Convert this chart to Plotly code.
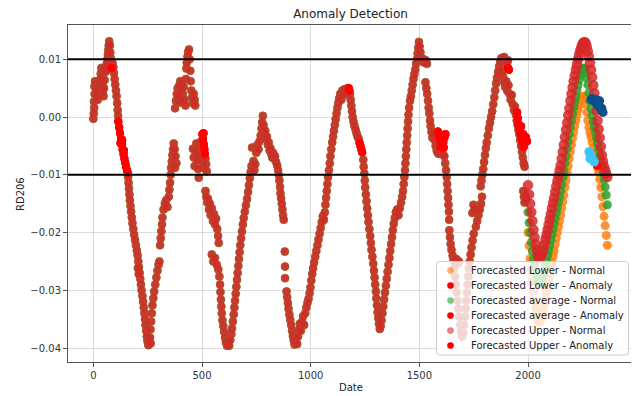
import plotly.graph_objects as go

# ---------------- data ----------------
x_ticks = [0, 500, 1000, 1500, 2000]
x_tick_labels = ["0", "500", "1000", "1500", "2000"]
y_ticks = [-0.04, -0.03, -0.02, -0.01, 0.00, 0.01]
y_tick_labels = ["\u22120.04", "\u22120.03", "\u22120.02", "\u22120.01", "0.00", "0.01"]
threshold_levels = [0.01, -0.01]

legend_labels = ["Forecasted Lower - Normal", "Forecasted Lower - Anomaly",
                 "Forecasted average - Normal", "Forecasted average - Anomaly",
                 "Forecasted Upper - Normal", "Forecasted Upper - Anomaly"]

# history (date, value) - all three forecast series coincide here
seg_a = [(0,-0.0003),(2,0.0006),(4,0.0016),(3,0.0027),(6,0.0040),(5,0.0053),(8,0.0062),(12,0.0058),(15,0.0048),
         (18,0.0038),(21,0.0030),(23,0.0045),(26,0.0058),(29,0.0064),(31,0.0052),(34,0.0075),(37,0.0085),(40,0.0070),
         (42,0.0058),(44,0.0045),(47,0.0036),(49,0.0050),(52,0.0064),(54,0.0078),(57,0.0086),(60,0.0080),(62,0.0092),
         (65,0.0100),(67,0.0108),(69,0.0116),(71,0.0124),(73,0.0131),(76,0.0124),(78,0.0112),(80,0.0102),(88,0.0094),
         (92,0.0086),(95,0.0076),(98,0.0066),(101,0.0056),(104,0.0046),(107,0.0036),(110,0.0024),(112,0.0012),(114,0.0002)]
seg_b = [(160,-0.0104),(162,-0.0114),(164,-0.0124),(166,-0.0134),(168,-0.0144),(171,-0.0154),(174,-0.0164),(177,-0.0174),
         (180,-0.0184),(184,-0.0194),(188,-0.0204),(192,-0.0213),(196,-0.0222),(200,-0.0231),(204,-0.0240),(207,-0.0250),
         (210,-0.0260),(213,-0.0270),(216,-0.0280),(219,-0.0290),(222,-0.0300),(226,-0.0310),(229,-0.0320),(232,-0.0330),
         (235,-0.0340),(238,-0.0350),(240,-0.0360),(243,-0.0370),(246,-0.0380),(249,-0.0388),(253,-0.0395),(257,-0.0390),
         (261,-0.0382),(264,-0.0392),(205,-0.0262),(209,-0.0272)]
seg_c = [(263,-0.0368),(266,-0.0354),(269,-0.0340),(272,-0.0326),(276,-0.0314),(280,-0.0302),(285,-0.0290),(290,-0.0278),
         (295,-0.0266),(300,-0.0256),(304,-0.0250),(307,-0.0222),(310,-0.0210),(313,-0.0198),(316,-0.0186),(318,-0.0174),
         (323,-0.0160),(329,-0.0150),(335,-0.0144),(341,-0.0156),(347,-0.0138),(350,-0.0126),(353,-0.0114),(356,-0.0100),
         (358,-0.0088),(361,-0.0077),(364,-0.0066),(367,-0.0056),(370,-0.0046),(374,-0.0056),(378,-0.0068),(382,-0.0080),
         (376,-0.0088)]
seg_d = [(376,0.0015),(380,0.0028),(384,0.0040),(388,0.0050),(392,0.0035),(396,0.0055),(400,0.0062),(404,0.0048),
         (408,0.0058),(412,0.0040),(416,0.0052),(420,0.0030),(424,0.0020),(426,0.0066),(428,0.0084),(430,0.0094),
         (433,0.0104),(436,0.0112),(440,0.0117),(443,0.0100),(446,0.0080),(448,0.0062),(451,0.0046),(454,0.0034),
         (458,0.0024),(462,0.0040),(466,0.0030),(469,0.0020),(398,0.0025),(410,0.0030)]
seg_e = [(458,-0.0055),(462,-0.0070),(466,-0.0085),(470,-0.0060),(474,-0.0046),(478,-0.0075),(482,-0.0090),(485,-0.0105),
         (488,-0.0066),(492,-0.0052),(496,-0.0042),(499,-0.0076),(503,-0.0088),(516,-0.0072),(519,-0.0082),(522,-0.0094),
         (516,-0.0128),(520,-0.0138),(524,-0.0148),(528,-0.0142),(532,-0.0160),(536,-0.0150),(540,-0.0170),(545,-0.0158),
         (550,-0.0180),(555,-0.0168),(560,-0.0186),(565,-0.0176),(570,-0.0194),(574,-0.0206),(577,-0.0218),(545,-0.0238),
         (552,-0.0250),(560,-0.0244),(568,-0.0256),(575,-0.0264),(580,-0.0276),(583,-0.0290),(585,-0.0303),(587,-0.0316),
         (589,-0.0328),(591,-0.0340),(594,-0.0352),(598,-0.0362),(602,-0.0372),(606,-0.0382),(610,-0.0390),(615,-0.0396),
         (620,-0.0389),(625,-0.0396),(630,-0.0386),(635,-0.0376)]
seg_f = [(638,-0.0366),(642,-0.0354),(646,-0.0342),(649,-0.0330),(652,-0.0318),(655,-0.0306),(658,-0.0294),(661,-0.0282),
         (664,-0.0270),(667,-0.0258),(670,-0.0246),(673,-0.0234),(676,-0.0222),(680,-0.0210),(684,-0.0198),(688,-0.0186),
         (692,-0.0175),(697,-0.0164),(702,-0.0153),(707,-0.0142),(712,-0.0130),(716,-0.0118),(720,-0.0106),(724,-0.0095),
         (728,-0.0085),(730,-0.0053),(737,-0.0076),(741,-0.0092),(745,-0.0082),(750,-0.0062),(755,-0.0048),(760,-0.0056),
         (765,-0.0042),(770,-0.0032),(774,-0.0020),(777,-0.0009),(780,0.0002),(783,-0.0014),(787,-0.0028),(791,-0.0024),
         (795,-0.0038),(799,-0.0034),(803,-0.0048),(807,-0.0044),(811,-0.0058),(815,-0.0054),(819,-0.0064),(823,-0.0070),
         (827,-0.0062),(831,-0.0072),(836,-0.0068),(841,-0.0078),(846,-0.0084),(850,-0.0092),(853,-0.0100),(856,-0.0110),
         (859,-0.0121),(861,-0.0132),(864,-0.0141),(867,-0.0150),(870,-0.0160),(873,-0.0170),(876,-0.0178),(881,-0.0233),
         (882,-0.0259),(882,-0.0279),(889,-0.0302),(892,-0.0312),(895,-0.0322),(898,-0.0332),(902,-0.0342),(906,-0.0351),
         (910,-0.0360),(914,-0.0370),(918,-0.0379),(922,-0.0387),(926,-0.0394),(930,-0.0389),(934,-0.0384),(938,-0.0393)]
seg_g = [(942,-0.0380),(946,-0.0368),(950,-0.0358),(955,-0.0370),(960,-0.0355),(965,-0.0345),(970,-0.0360),(975,-0.0340),
         (980,-0.0330),(985,-0.0322),(990,-0.0315),(995,-0.0305),(999,-0.0295),(1003,-0.0283),(1007,-0.0272),(1011,-0.0262),
         (1016,-0.0252),(1021,-0.0242),(1026,-0.0232),(1031,-0.0222),(1036,-0.0212),(1041,-0.0202),(1046,-0.0192),
         (1051,-0.0182),(1056,-0.0172),(1061,-0.0178),(1065,-0.0165),(1068,-0.0152),(1071,-0.0140),(1074,-0.0128),
         (1077,-0.0116),(1080,-0.0104),(1084,-0.0092),(1088,-0.0080),(1091,-0.0068),(1095,-0.0056),(1099,-0.0044),
         (1103,-0.0034),(1107,-0.0024),(1111,-0.0014),(1115,-0.0004),(1119,0.0006),(1123,0.0016),(1127,0.0024),
         (1131,0.0032),(1136,0.0040),(1141,0.0030),(1146,0.0046),(1151,0.0038),(1156,0.0048),(1161,0.0040),
         (1166,0.0046),(1170,0.0050)]
seg_h = [(1181,0.0040),(1184,0.0030),(1187,0.0020),(1190,0.0010),(1193,0.0000),(1197,-0.0008),(1201,-0.0015),
         (1206,-0.0021),(1211,-0.0028),(1216,-0.0034),(1221,-0.0038),(1242,-0.0074),(1244,-0.0086),(1247,-0.0098),
         (1249,-0.0110),(1251,-0.0122),(1254,-0.0134),(1257,-0.0146),(1260,-0.0158),(1263,-0.0170),(1266,-0.0182),
         (1270,-0.0194),(1274,-0.0206),(1277,-0.0218),(1280,-0.0230),(1284,-0.0242),(1288,-0.0254),(1291,-0.0266),
         (1294,-0.0278),(1297,-0.0290),(1300,-0.0302),(1302,-0.0314),(1305,-0.0326),(1308,-0.0338),(1311,-0.0348),
         (1314,-0.0358),(1318,-0.0367),(1322,-0.0362)]
seg_i = [(1326,-0.0352),(1330,-0.0340),(1334,-0.0328),(1338,-0.0316),(1342,-0.0304),(1346,-0.0292),(1350,-0.0280),
         (1354,-0.0268),(1358,-0.0256),(1362,-0.0244),(1366,-0.0232),(1370,-0.0220),(1374,-0.0208),(1378,-0.0196),
         (1382,-0.0185),(1387,-0.0175),(1392,-0.0165),(1398,-0.0160),(1404,-0.0170),(1410,-0.0158),(1416,-0.0148),
         (1421,-0.0138),(1425,-0.0128),(1428,-0.0116),(1431,-0.0104),(1434,-0.0092),(1436,-0.0080),(1438,-0.0068),
         (1440,-0.0056),(1442,-0.0044),(1444,-0.0032),(1446,-0.0020),(1448,-0.0008),(1450,0.0004),(1453,0.0016),
         (1457,0.0028),(1461,0.0036),(1465,0.0046),(1469,0.0056),(1473,0.0066),(1477,0.0074),(1481,0.0082),
         (1485,0.0092),(1489,0.0100),(1492,0.0110),(1495,0.0120),(1498,0.0130),(1501,0.0122)]
seg_j = [(1505,0.0112),(1510,0.0102),(1515,0.0096),(1520,0.0100),(1525,0.0094),(1530,0.0098),(1535,0.0092),(1528,0.0060),
         (1532,0.0050),(1536,0.0040),(1540,0.0028),(1543,0.0016),(1546,0.0006),(1549,-0.0006),(1552,-0.0016),
         (1556,-0.0026),(1560,-0.0036),(1565,-0.0028),(1570,-0.0040),(1575,-0.0050),(1580,-0.0058),(1585,-0.0062),
         (1590,-0.0064),(1600,-0.0060),(1608,-0.0064),(1615,-0.0068),(1619,-0.0080),(1623,-0.0092),(1626,-0.0104),
         (1628,-0.0116),(1630,-0.0128),(1632,-0.0140),(1634,-0.0152),(1636,-0.0164),(1637,-0.0178),(1638,-0.0196),
         (1641,-0.0208),(1644,-0.0220),(1648,-0.0230),(1653,-0.0240),(1658,-0.0248),(1664,-0.0252),(1670,-0.0246),
         (1676,-0.0254),(1682,-0.0250),(1660,-0.0262),(1664,-0.0276),(1668,-0.0290),(1672,-0.0304),(1676,-0.0318),
         (1680,-0.0332),(1684,-0.0346),(1688,-0.0360),(1692,-0.0372),(1697,-0.0380),(1702,-0.0374),(1706,-0.0360),
         (1710,-0.0346),(1713,-0.0332),(1716,-0.0318),(1719,-0.0304),(1722,-0.0290),(1725,-0.0276),(1728,-0.0262),
         (1732,-0.0250),(1736,-0.0238),(1740,-0.0226),(1745,-0.0214),(1750,-0.0202),(1744,-0.0166),(1749,-0.0152),
         (1754,-0.0160),(1760,-0.0190),(1766,-0.0180),(1772,-0.0170),(1778,-0.0160),(1784,-0.0150),(1788,-0.0138),
         (1782,-0.0120),(1786,-0.0110),(1790,-0.0100),(1794,-0.0090),(1798,-0.0078),(1802,-0.0066),(1806,-0.0054),
         (1810,-0.0044),(1815,-0.0032),(1820,-0.0020),(1825,-0.0010),(1830,0.0000),(1835,0.0010),(1840,0.0022),
         (1845,0.0034),(1849,0.0046),(1853,0.0058),(1857,0.0068),(1862,0.0078),(1867,0.0088),(1872,0.0096),
         (1878,0.0102),(1884,0.0100),(1890,0.0104),(1896,0.0098),(1902,0.0092),(1908,0.0098)]
seg_k = [(1880,0.0080),(1885,0.0070),(1890,0.0060),(1895,0.0052),(1900,0.0062),(1905,0.0045),(1910,0.0055),(1915,0.0040),
         (1920,0.0030),(1925,0.0038),(1930,0.0022),(1935,0.0012),(1940,0.0018),(1944,0.0004),(1948,-0.0006),
         (1952,-0.0014),(1956,-0.0022),(1960,-0.0030),(1964,-0.0040),(1968,-0.0050),(1972,-0.0060),(1976,-0.0070),
         (1980,-0.0080),(1984,-0.0086),(1978,-0.0128),(1981,-0.0138),(1984,-0.0148),(1988,-0.0135),(1992,-0.0142)]

# anomalies (date, value) - shared by the three series
anomalies = [(84,0.0085),(115,-0.0008),(119,-0.0018),(123,-0.0028),(127,-0.0038),(131,-0.0047),(135,-0.0056),
             (139,-0.0064),(143,-0.0072),(147,-0.0079),(151,-0.0086),(155,-0.0092),(159,-0.0097),(125,-0.0045),
             (133,-0.0040),(141,-0.0058),(502,-0.0030),(505,-0.0038),(508,-0.0047),(511,-0.0056),(513,-0.0064),
             (507,-0.0028),(1175,0.0050),(1178,0.0046),(1225,-0.0045),(1229,-0.0050),(1233,-0.0056),(1237,-0.0061),
             (1585,-0.0025),(1590,-0.0032),(1595,-0.0040),(1600,-0.0046),(1605,-0.0050),(1610,-0.0044),(1615,-0.0036),
             (1620,-0.0030),(1598,-0.0052),(1612,-0.0053),(1908,0.0085),(1912,0.0082),(1950,0.0008),(1953,-0.0002),
             (1955,-0.0012),(1960,-0.0020),(1965,-0.0028),(1970,-0.0036),(1975,-0.0044),(1980,-0.0052),(1985,-0.0045),
             (1990,-0.0035),(1995,-0.0042),(1968,-0.0016),(1978,-0.0030),(2318,-0.0084)]

# forecast period
forecast_dates = list(range(2000, 2366, 5))
forecast_upper = [-0.0118,-0.0134,-0.0150,-0.0165,-0.0180,-0.0195,-0.0208,-0.0220,-0.0230,-0.0238,
                  -0.0244,-0.0244,-0.0240,-0.0236,-0.0230,-0.0221,-0.0212,-0.0204,-0.0195,-0.0186,
                  -0.0177,-0.0168,-0.0158,-0.0149,-0.0140,-0.0130,-0.0120,-0.0111,-0.0102,-0.0093,
                  -0.0084,-0.0072,-0.0060,-0.0048,-0.0035,-0.0022,-0.0010,0.0003,0.0015,0.0028,
                  0.0040,0.0051,0.0062,0.0072,0.0082,0.0091,0.0100,0.0108,0.0115,0.0121,
                  0.0126,0.0129,0.0130,0.0128,0.0122,0.0114,0.0105,0.0094,0.0082,0.0069,
                  0.0055,0.0041,0.0027,0.0011,-0.0006,-0.0021,-0.0036,-0.0051,-0.0066,-0.0077,
                  -0.0086,-0.0092,-0.0098,-0.0104]
forecast_average = [-0.0165,-0.0183,-0.0200,-0.0217,-0.0232,-0.0246,-0.0258,-0.0268,-0.0276,-0.0283,
                    -0.0288,-0.0288,-0.0286,-0.0281,-0.0275,-0.0267,-0.0258,-0.0249,-0.0240,-0.0231,
                    -0.0222,-0.0213,-0.0204,-0.0195,-0.0186,-0.0176,-0.0166,-0.0157,-0.0147,-0.0138,
                    -0.0128,-0.0117,-0.0105,-0.0093,-0.0080,-0.0068,-0.0055,-0.0043,-0.0030,-0.0018,
                    -0.0006,0.0005,0.0016,0.0026,0.0036,0.0046,0.0055,0.0064,0.0072,0.0078,
                    0.0083,0.0085,0.0084,0.0078,0.0068,0.0056,0.0042,0.0028,0.0015,0.0003,
                    -0.0008,-0.0017,-0.0026,-0.0036,-0.0046,-0.0056,-0.0066,-0.0076,-0.0086,-0.0097,
                    -0.0108,-0.0121,-0.0135,-0.0152]
forecast_lower = [-0.0200,-0.0223,-0.0245,-0.0266,-0.0285,-0.0302,-0.0318,-0.0331,-0.0342,-0.0350,
                  -0.0355,-0.0355,-0.0350,-0.0343,-0.0335,-0.0324,-0.0313,-0.0303,-0.0292,-0.0282,
                  -0.0272,-0.0262,-0.0252,-0.0242,-0.0232,-0.0221,-0.0210,-0.0200,-0.0190,-0.0180,
                  -0.0170,-0.0158,-0.0147,-0.0135,-0.0122,-0.0110,-0.0097,-0.0085,-0.0072,-0.0060,
                  -0.0048,-0.0037,-0.0026,-0.0016,-0.0006,0.0003,0.0012,0.0020,0.0027,0.0032,
                  0.0035,0.0036,0.0032,0.0022,0.0008,-0.0006,-0.0018,-0.0027,-0.0035,-0.0044,
                  -0.0054,-0.0064,-0.0072,-0.0080,-0.0088,-0.0096,-0.0108,-0.0122,-0.0138,-0.0155,
                  -0.0172,-0.0188,-0.0205,-0.0222]

# extra highlighted points near the end
dark_blue_points = [(2290,0.0030),(2295,0.0032),(2300,0.0030),(2305,0.0028),(2310,0.0026),(2315,0.0030),(2320,0.0027),
                    (2325,0.0022),(2330,0.0018),(2335,0.0012),(2340,0.0015),(2345,0.0008),(2330,0.0028),(2320,0.0020)]
light_blue_points = [(2280,-0.0060),(2285,-0.0065),(2290,-0.0068),(2285,-0.0072),(2295,-0.0072),(2300,-0.0076),
                     (2305,-0.0078)]

# ---------------- figure ----------------
FONT = "DejaVu Sans"
# the page body adds an 8px offset; the figure is sized so the page picture is 639x396
OFF = 8
PAGE_W, PAGE_H = 639, 396
W_FIG, H_FIG = PAGE_W - OFF, PAGE_H - OFF
PLOT_L, PLOT_R, PLOT_T, PLOT_B = 68, 633, 25, 362          # plot area in page pixels
M_L, M_T = PLOT_L - OFF, PLOT_T - OFF
M_R, M_B = W_FIG - (PLOT_R - OFF), H_FIG - (PLOT_B - OFF)
PW = PLOT_R - PLOT_L
PH = PLOT_B - PLOT_T


def xp(px):
    """page pixel x -> paper fraction"""
    return (px - PLOT_L) / PW


def yp(py):
    """page pixel y -> paper fraction"""
    return (PLOT_B - py) / PH


history = seg_a + seg_b + seg_c + seg_d + seg_e + seg_f + seg_g + seg_h + seg_i + seg_j + seg_k
hist_x = [p[0] for p in history]
hist_y = [p[1] for p in history]
anom_x = [p[0] for p in anomalies]
anom_y = [p[1] for p in anomalies]

ORANGE, GREEN, RED, ANOM = "#ff7f0e", "#2ca02c", "#d62728", "#ff0000"

fig = go.Figure()
series = [("Forecasted Lower", ORANGE, forecast_lower, 0.6, 9),
          ("Forecasted average", GREEN, forecast_average, 0.6, 9),
          ("Forecasted Upper", RED, forecast_upper, 0.85, 10.5)]
for name, col, fc, hist_op, fc_size in series:
    fig.add_trace(go.Scatter(x=hist_x, y=hist_y, mode="markers", name=name + " - Normal",
                             marker=dict(color=col, size=8, opacity=hist_op,
                                         line=dict(width=1, color="rgba(170,80,45,0.7)") if col == RED else dict(width=0)),
                             showlegend=False))
    fig.add_trace(go.Scatter(x=forecast_dates, y=fc, mode="markers", name=name + " - Normal",
                             marker=dict(color=col, size=fc_size, opacity=0.85, line=dict(width=0)),
                             showlegend=False))
    fig.add_trace(go.Scatter(x=anom_x, y=anom_y, mode="markers", name=name + " - Anomaly",
                             marker=dict(color=ANOM, size=8, line=dict(width=0)), showlegend=False))

fig.add_trace(go.Scatter(x=[p[0] for p in dark_blue_points], y=[p[1] for p in dark_blue_points], mode="markers",
                         marker=dict(color="#0b4f8c", size=9, line=dict(width=0)), showlegend=False))
fig.add_trace(go.Scatter(x=[p[0] for p in light_blue_points], y=[p[1] for p in light_blue_points], mode="markers",
                         marker=dict(color="#3cc6f7", size=9, line=dict(width=0)), showlegend=False))

shapes = []
for lvl in threshold_levels:
    shapes.append(dict(type="line", xref="paper", yref="y", x0=0, x1=1, y0=lvl, y1=lvl,
                       line=dict(color="black", width=2), layer="above"))

# legend box (rounded rectangle) drawn in paper coordinates
bx0, by0, bx1, by1, r = 436.5, 261.5, 628.5, 355.0, 3.0
pts = lambda a, b: f"{xp(a):.5f},{yp(b):.5f}"
path = (f"M {pts(bx0 + r, by0)} L {pts(bx1 - r, by0)} Q {pts(bx1, by0)} {pts(bx1, by0 + r)} "
        f"L {pts(bx1, by1 - r)} Q {pts(bx1, by1)} {pts(bx1 - r, by1)} L {pts(bx0 + r, by1)} "
        f"Q {pts(bx0, by1)} {pts(bx0, by1 - r)} L {pts(bx0, by0 + r)} Q {pts(bx0, by0)} {pts(bx0 + r, by0)} Z")
shapes.append(dict(type="path", xref="paper", yref="paper", path=path, fillcolor="rgba(255,255,255,0.8)",
                   line=dict(color="#cccccc", width=1), layer="above"))

legend_colors = ["rgba(255,127,14,0.6)", ANOM, "rgba(44,160,44,0.6)", ANOM, "rgba(214,39,40,0.6)", ANOM]
annotations = []
for i, (lab, col) in enumerate(zip(legend_labels, legend_colors)):
    cy = 270.6 + 15.0 * i
    cx, rad = 450.5, 3.3
    shapes.append(dict(type="circle", xref="paper", yref="paper", x0=xp(cx - rad), x1=xp(cx + rad),
                       y0=yp(cy + rad), y1=yp(cy - rad), fillcolor=col, line=dict(width=0), layer="above"))
    annotations.append(dict(xref="paper", yref="paper", x=xp(469), y=yp(cy), text=lab, showarrow=False,
                            xanchor="left", yanchor="middle", font=dict(family=FONT, size=10, color="#222222")))

annotations.append(dict(xref="paper", yref="paper", x=xp(20), y=yp(194), text="RD206", textangle=-90,
                        showarrow=False, xanchor="center", yanchor="middle",
                        font=dict(family=FONT, size=10, color="#222222")))
annotations.append(dict(xref="paper", yref="paper", x=xp(350.5), y=yp(387), text="Date",
                        showarrow=False, xanchor="center", yanchor="middle",
                        font=dict(family=FONT, size=10, color="#222222")))

axis_common = dict(showgrid=True, gridcolor="#dcdcdc", gridwidth=1, zeroline=False, showline=True,
                   linecolor="#555555", linewidth=1, mirror=True, ticks="outside", ticklen=4,
                   tickcolor="#555555", tickfont=dict(family=FONT, size=10, color="#333333"))

fig.update_layout(
    width=W_FIG, height=H_FIG,
    margin=dict(l=M_L, r=M_R, t=M_T, b=M_B, pad=0),
    paper_bgcolor="white", plot_bgcolor="white",
    title=dict(text="Anomaly Detection", x=(350.5 - OFF) / W_FIG, y=1 - (14 - OFF) / H_FIG,
               xref="container", yref="container",
               xanchor="center", yanchor="middle", font=dict(family=FONT, size=12, color="#222222")),
    xaxis=dict(range=[-116.5, 2483], tickvals=x_ticks, ticktext=x_tick_labels, **axis_common),
    yaxis=dict(range=[-0.04242, 0.01593], tickvals=y_ticks, ticktext=y_tick_labels, **axis_common),
    shapes=shapes, annotations=annotations, showlegend=False,
)

fig.write_html("out.html")
